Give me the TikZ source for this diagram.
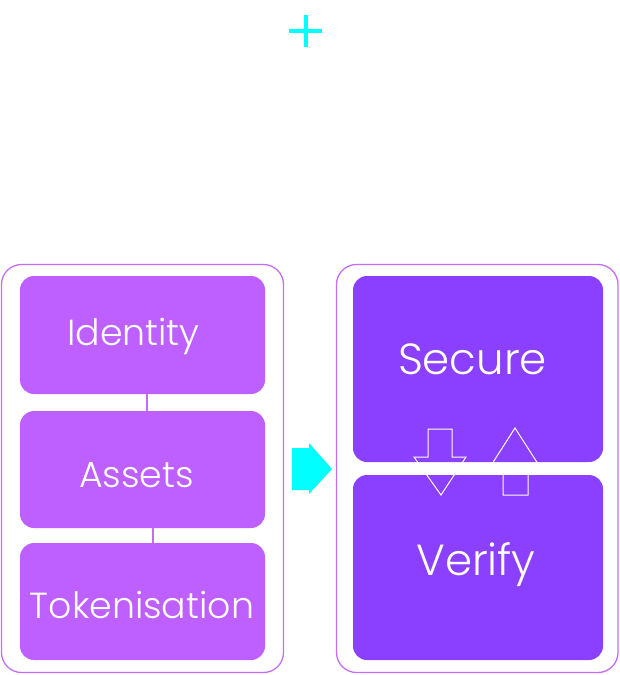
\documentclass[tikz,border=0pt]{standalone}
\usepackage{fontspec}
\setmainfont{Poppins}[UprightFont=* Light]
\usetikzlibrary{calc}
\definecolor{frameC}{HTML}{C46EF7}
\definecolor{lightP}{HTML}{BE5FFF}
\definecolor{darkP}{HTML}{8B3FFF}
\definecolor{cyanC}{HTML}{00FFFF}
\tikzset{
  frame/.style={draw=frameC, line width=1.3pt, rounded corners=20pt},
  lbox/.style={fill=lightP, rounded corners=14pt},
  rbox/.style={fill=darkP, rounded corners=14pt},
  ltext/.style={text=white, font=\fontsize{36.3}{42}\selectfont, anchor=base, inner sep=0pt},
  rtext/.style={text=white, font=\fontsize{43.5}{50}\selectfont, anchor=base, inner sep=0pt},
  link/.style={draw=frameC, line width=1.2pt},
  outarrow/.style={draw=white, line width=1pt},
}
\begin{document}
\begin{tikzpicture}[x=1pt,y=-1pt]
\useasboundingbox (0,0) rectangle (620,675);
% plus
\draw[cyanC, line width=4pt] (289,31) -- (322,31) (306,15) -- (306,47);
% frames
\draw[frame] (1.5,264.5) rectangle (283.5,672.5);
\draw[frame] (336.5,264.5) rectangle (618,672.5);
% left boxes
\path[lbox] (20,276) rectangle (265,394);
\path[lbox] (20,411) rectangle (265,528);
\path[lbox] (20,543) rectangle (265,660);
\coordinate (idS) at (147,394);
\coordinate (asN) at (147,411);
\coordinate (asS) at (153,528);
\coordinate (tkN) at (153,543);
\draw[link] (idS) -- (asN);
\draw[link] (asS) -- (tkN);
\node[ltext] (id) at (133.5,345) {Identity};
\node[ltext] (as) at (136.5,487) {Assets};
\node[ltext] (tk) at (142,618) {Tokenisation};
% cyan arrow
\fill[cyanC] (292,448) -- (309,448) -- (309,443) -- (332,469) -- (309,494) -- (309,490) -- (292,490) -- cycle;
% right boxes
\path[rbox] (353,276) rectangle (603,462);
\path[rbox] (353,475) rectangle (603,660);
\node[rtext] (se) at (472.5,374) {Secure};
\node[rtext] (ve) at (476,575) {Verify};
% up/down outline arrows
\draw[outarrow] (428,429) -- (452,429) -- (452,457) -- (466,457) -- (441,495) -- (414,457) -- (428,457) -- cycle;
\draw[outarrow] (515,428) -- (540,467) -- (528,467) -- (528,495) -- (503,495) -- (503,467) -- (490,467) -- cycle;
\end{tikzpicture}
\end{document}
